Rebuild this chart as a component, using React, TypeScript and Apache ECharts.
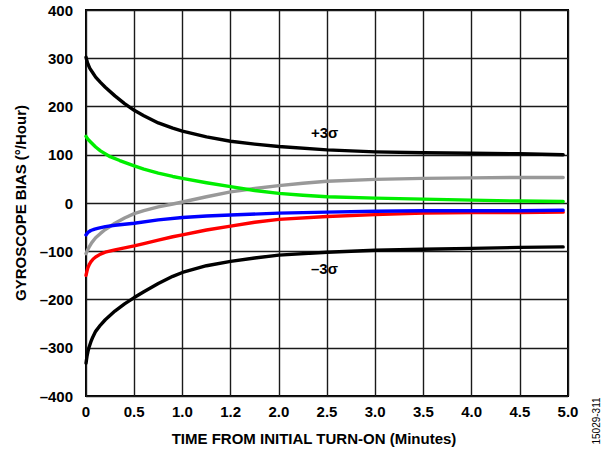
import React, { useEffect, useRef } from "react";
import * as echarts from "echarts";

const xTickLabels: Record<string, string> = {
  "0": "0", "0.5": "0.5", "1": "1.0", "1.5": "1.2", "2": "2.0", "2.5": "2.5",
  "3": "3.0", "3.5": "3.5", "4": "4.0", "4.5": "4.5", "5": "5.0",
};
const yTickLabels: Record<string, string> = {
  "400": "400", "300": "300", "200": "200", "100": "100", "0": "0",
  "-100": "–100", "-200": "–200", "-300": "–300", "-400": "–400",
};

const plus3Sigma: [number, number][] = [
  [0, 302], [0.01, 294], [0.02, 288], [0.04, 279], [0.07, 270], [0.1, 261], [0.15, 250],
  [0.2, 240], [0.3, 222], [0.4, 206], [0.5, 192], [0.6, 181], [0.75, 166], [0.9, 155],
  [1.0, 149], [1.25, 137], [1.5, 128], [1.75, 122], [2.0, 117], [2.5, 110],
  [3.0, 106], [3.5, 104], [4.0, 103], [4.5, 102], [4.95, 100],
];
const minus3Sigma: [number, number][] = [
  [0, -332], [0.01, -318], [0.02, -308], [0.03, -300], [0.05, -288], [0.07, -278],
  [0.1, -266], [0.15, -253], [0.2, -242], [0.3, -224], [0.4, -209], [0.5, -196],
  [0.6, -184], [0.75, -167], [0.9, -152], [1.0, -144], [1.25, -130], [1.5, -121],
  [1.75, -114], [2.0, -108], [2.5, -102], [3.0, -98], [3.5, -96], [4.0, -94],
  [4.5, -92], [4.95, -91],
];
const green: [number, number][] = [
  [0, 138], [0.02, 132], [0.05, 126], [0.1, 116], [0.15, 108], [0.25, 96], [0.35, 88],
  [0.5, 77], [0.6, 70], [0.75, 62], [0.9, 55], [1.0, 51], [1.25, 42], [1.5, 34],
  [1.75, 26], [2.0, 20], [2.25, 16], [2.5, 13], [3.0, 10], [3.5, 8], [4.0, 6],
  [4.5, 4], [4.95, 3],
];
const gray: [number, number][] = [
  [0, -105], [0.015, -98], [0.03, -92], [0.06, -82], [0.1, -72], [0.15, -63],
  [0.2, -55], [0.3, -42], [0.4, -31], [0.5, -22], [0.6, -16], [0.75, -8], [0.9, -2],
  [1.0, 2], [1.25, 13], [1.5, 23], [1.75, 30], [2.0, 36], [2.25, 41], [2.5, 45],
  [3.0, 49], [3.5, 51], [4.0, 52], [4.5, 53], [4.95, 53],
];
const blue: [number, number][] = [
  [0, -66], [0.02, -61], [0.05, -57], [0.09, -54], [0.13, -52], [0.2, -49], [0.3, -46],
  [0.5, -42], [0.75, -35], [1.0, -30], [1.25, -27], [1.5, -25], [2.0, -21],
  [2.5, -19], [3.0, -17], [3.5, -16], [4.0, -16], [4.5, -16], [4.95, -15],
];
const red: [number, number][] = [
  [0, -150], [0.01, -141], [0.02, -134], [0.035, -127], [0.05, -122], [0.075, -116],
  [0.1, -112], [0.15, -106], [0.2, -102], [0.3, -97], [0.4, -93], [0.5, -89],
  [0.6, -84], [0.75, -77], [0.9, -70], [1.0, -66], [1.25, -56], [1.5, -48],
  [1.75, -40], [2.0, -34], [2.5, -28], [3.0, -24], [3.5, -21], [4.0, -20],
  [4.5, -20], [4.95, -19],
];

const FONT = "'Liberation Sans', Arial, sans-serif";

function line(name: string, data: [number, number][], color: string, z: number) {
  return {
    name,
    type: "line",
    data,
    smooth: false,
    showSymbol: false,
    symbol: "none",
    z,
    lineStyle: { color, width: 3.4, join: "round", cap: "round" },
  };
}

export default function App() {
  const ref = useRef<HTMLDivElement>(null);
  useEffect(() => {
    if (!ref.current) return;
    const chart = echarts.init(ref.current, null, { renderer: "svg" });
    chart.setOption({
      animation: false,
      backgroundColor: "#fff",
      grid: {
        left: 86, right: 42, top: 10, bottom: 58, show: true,
        borderColor: "#000", borderWidth: 2, backgroundColor: "transparent",
      },
      xAxis: {
        type: "value", min: 0, max: 5, interval: 0.5,
        axisLine: { show: false }, axisTick: { show: false },
        splitLine: { show: true, lineStyle: { color: "#1a1a1a", width: 1.4 } },
        axisLabel: {
          margin: 8, color: "#000", fontFamily: FONT, fontWeight: "bold", fontSize: 15,
          formatter: (v: number) => xTickLabels[String(v)] ?? String(v),
        },
      },
      yAxis: {
        type: "value", min: -400, max: 400, interval: 100,
        axisLine: { show: false }, axisTick: { show: false },
        splitLine: { show: true, lineStyle: { color: "#1a1a1a", width: 1.4 } },
        axisLabel: {
          margin: 13, color: "#000", fontFamily: FONT, fontWeight: "bold", fontSize: 15,
          formatter: (v: number) => yTickLabels[String(v)] ?? String(v),
        },
      },
      series: [
        line("+3σ", plus3Sigma, "#000000", 5),
        line("−3σ", minus3Sigma, "#000000", 5),
        line("green", green, "#00ee00", 3),
        line("gray", gray, "#999999", 2),
        line("blue", blue, "#0000ff", 4),
        line("red", red, "#ff0000", 3),
      ],
      graphic: [
        {
          type: "text", x: 311, y: 125,
          style: { text: "+3σ", fill: "#000", font: `bold 15px ${FONT}` },
        },
        {
          type: "text", x: 311, y: 261,
          style: { text: "–3σ", fill: "#000", font: `bold 15px ${FONT}` },
        },
        {
          type: "text", x: 20, y: 203, rotation: Math.PI / 2,
          style: {
            text: "GYROSCOPE BIAS (°/Hour)", fill: "#000", font: `bold 15px ${FONT}`,
            align: "center", verticalAlign: "middle",
          },
        },
        {
          type: "text", x: 314, y: 438,
          style: {
            text: "TIME FROM INITIAL TURN-ON (Minutes)", fill: "#000", font: `bold 15px ${FONT}`,
            align: "center", verticalAlign: "middle",
          },
        },
        {
          type: "text", x: 596, y: 421, rotation: Math.PI / 2,
          style: {
            text: "15029-311", fill: "#000", font: `10px ${FONT}`,
            align: "center", verticalAlign: "middle",
          },
        },
      ],
    });
    return () => chart.dispose();
  }, []);
  return <div ref={ref} style={{ width: 610, height: 454, position: "absolute", left: 0, top: 0 }} />;
}
